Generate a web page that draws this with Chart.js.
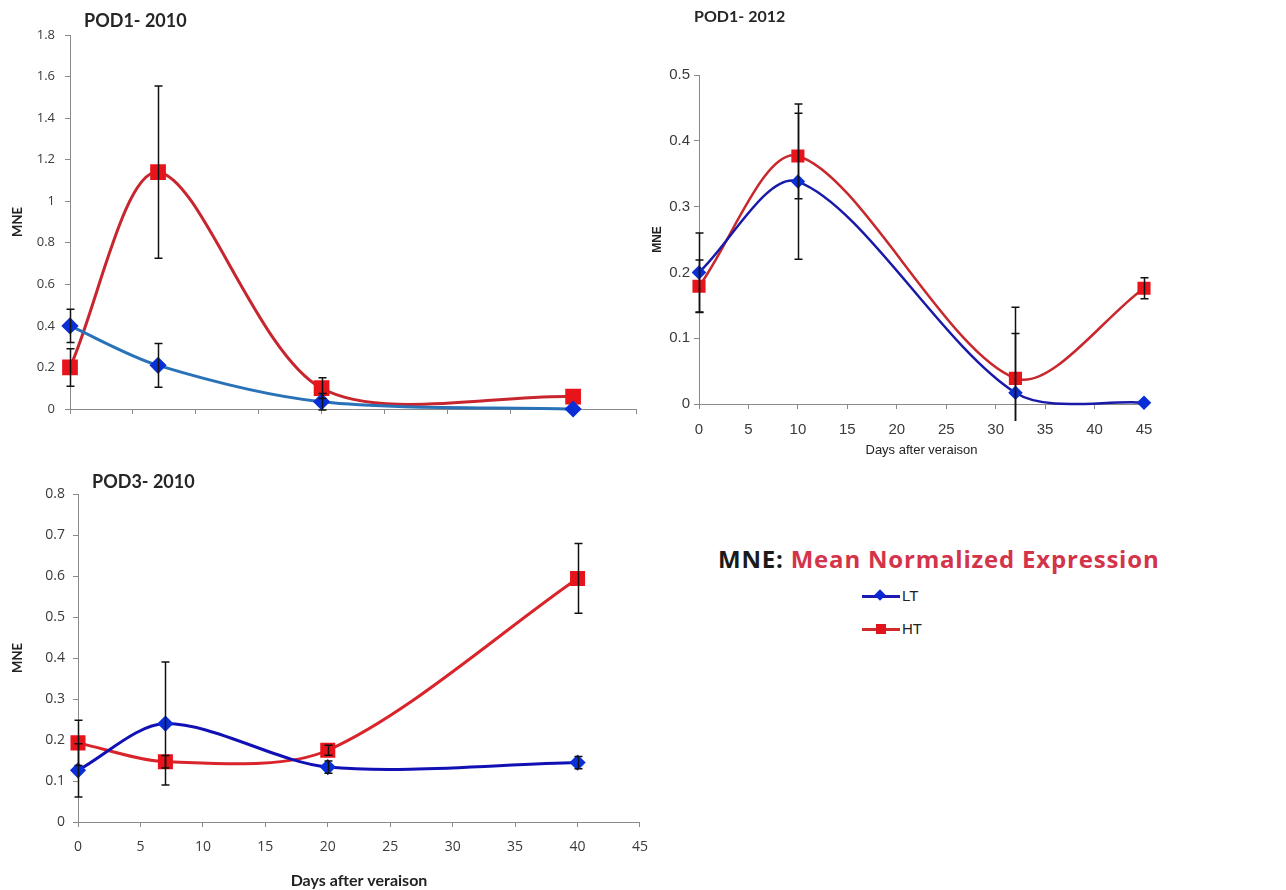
<!DOCTYPE html>
<html>
<head>
<meta charset="utf-8">
<title>POD1 / POD3 expression after veraison</title>
<script src="https://cdn.jsdelivr.net/npm/chart.js@4/dist/chart.umd.min.js"></script>
<style>
  html, body { margin: 0; padding: 0; background: #fff; }
  #page { position: relative; width: 1286px; height: 890px; overflow: hidden; background: #fff; }
  .panel { position: absolute; }
  .title { position: absolute; font-family: Lato, "Open Sans", sans-serif; font-weight: 700; color: #262626; white-space: nowrap; }
  #legend { position: absolute; left: 718px; top: 543px; font-family: "Open Sans", Lato, sans-serif; }
  #legend .head { font-size: 24px; line-height: 32px; font-weight: 700; letter-spacing: 0.8px; color: #1a1a1a; white-space: nowrap; }
  #legend .head span { color: #d4344a; }
  .entry { position: absolute; left: 144px; height: 20px; font-family: "Liberation Sans", Arial, sans-serif; font-size: 15px; color: #222; }
  .entry .ln { position: absolute; left: 0; top: 9px; width: 38px; height: 3px; }
  .entry .mk { position: absolute; }
  .entry .lb { position: absolute; left: 40px; top: 1px; }
</style>
</head>
<body>
<div id="page">
  <div class="panel" style="left:0;top:0"><canvas id="pod1_2010" width="660" height="440"></canvas></div>
  <div class="panel" style="left:640px;top:0"><canvas id="pod1_2012" width="646" height="470"></canvas></div>
  <div class="panel" style="left:0;top:440px"><canvas id="pod3_2010" width="660" height="450"></canvas></div>

  <div class="title" style="left:84px;top:9px;font-size:18px">POD1- 2010</div>
  <div class="title" style="left:694px;top:6px;font-size:16px">POD1- 2012</div>
  <div class="title" style="left:92px;top:470px;font-size:18px">POD3- 2010</div>

  <div id="legend">
    <div class="head">MNE: <span>Mean Normalized Expression</span></div>
    <div class="entry" style="top:43px">
      <div class="ln" style="background:#1c1cb4"></div>
      <div class="mk" style="left:14px;top:5px;width:8px;height:8px;background:#0b28d8;transform:rotate(45deg)"></div>
      <div class="lb">LT</div>
    </div>
    <div class="entry" style="top:76px">
      <div class="ln" style="background:#d02a2a"></div>
      <div class="mk" style="left:14px;top:5px;width:10px;height:10px;background:#e0141c"></div>
      <div class="lb">HT</div>
    </div>
  </div>
</div>

<script>
// Sampling days (days after veraison)
const DAYS_2010 = [0, 7, 20, 40];
const DAYS_2012 = [0, 10, 32, 45];

// POD1, season 2010: mean normalized expression and error
const POD1_2010_LT = [0.40, 0.21, 0.035, 0.0];
const POD1_2010_LT_ERR = [0.08, 0.105, 0.04, 0];
const POD1_2010_HT = [0.20, 1.14, 0.10, 0.06];
const POD1_2010_HT_ERR = [0.09, 0.415, 0.05, 0];

// POD1, season 2012
const POD1_2012_LT = [0.20, 0.338, 0.017, 0.002];
const POD1_2012_LT_ERR = [0.06, 0.118, 0.13, 0];
const POD1_2012_HT = [0.179, 0.377, 0.039, 0.176];
const POD1_2012_HT_ERR = [0.04, 0.065, 0.068, 0.016];

// POD3, season 2010
const POD3_2010_LT = [0.126, 0.24, 0.134, 0.145];
const POD3_2010_LT_ERR = [0.065, 0.15, 0.015, 0.015];
const POD3_2010_HT = [0.193, 0.147, 0.175, 0.594];
const POD3_2010_HT_ERR = [0.055, 0.015, 0.012, 0.085];

// Axis ranges and tick steps
const X_RANGE = { min: 0, max: 45, step: 5 };
const Y_POD1_2010 = { min: 0, max: 1.8, step: 0.2 };
const Y_POD1_2012 = { min: 0, max: 0.5, step: 0.1 };
const Y_POD3_2010 = { min: 0, max: 0.8, step: 0.1 };

const SERIES_LABELS = ['LT', 'HT'];
const Y_TITLE = 'MNE';
const X_TITLE = 'Days after veraison';

const toPoints = (days, vals) => days.map((d, i) => ({ x: d, y: vals[i] }));
const fmtTick = v => String(+v.toFixed(2));

// Vertical error bars with end caps, drawn on top of the series
const errorBars = {
  id: 'errorBars',
  afterDatasetsDraw(chart, args, o) {
    const { ctx, chartArea: a, scales: { x, y } } = chart;
    ctx.save();
    ctx.beginPath();
    ctx.rect(a.left - 20, a.top - 20, a.right - a.left + 40, a.bottom - a.top + 20 + o.below);
    ctx.clip();
    ctx.strokeStyle = o.color;
    ctx.lineWidth = o.width;
    chart.data.datasets.forEach((ds, i) => {
      if (!ds.errorBars || !chart.isDatasetVisible(i)) return;
      ds.data.forEach((p, j) => {
        const e = ds.errorBars[j];
        if (!e) return;
        const px = Math.round(x.getPixelForValue(p.x)) + 0.5;
        const hi = y.getPixelForValue(p.y + e);
        const lo = y.getPixelForValue(p.y - e);
        ctx.beginPath();
        ctx.moveTo(px, hi); ctx.lineTo(px, lo);
        ctx.moveTo(px - o.cap, hi); ctx.lineTo(px + o.cap, hi);
        ctx.moveTo(px - o.cap, lo); ctx.lineTo(px + o.cap, lo);
        ctx.stroke();
      });
    });
    ctx.restore();
  }
};

function makePanel(id, s) {
  const axisColor = '#8a8a8a';
  return new Chart(document.getElementById(id), {
    type: 'line',
    data: {
      datasets: [
        {
          label: SERIES_LABELS[0],
          data: toPoints(s.days, s.lt),
          errorBars: s.ltErr,
          borderColor: s.ltLine,
          backgroundColor: s.ltMark,
          pointBackgroundColor: s.ltMark,
          pointBorderColor: s.ltMark,
          pointStyle: 'rectRot',
          pointRadius: s.diamond,
          borderWidth: s.lineWidth,
          tension: s.tension,
          clip: false
        },
        {
          label: SERIES_LABELS[1],
          data: toPoints(s.days, s.ht),
          errorBars: s.htErr,
          borderColor: s.htLine,
          backgroundColor: s.htMark,
          pointBackgroundColor: s.htMark,
          pointBorderColor: s.htMark,
          pointStyle: 'rect',
          pointRadius: s.square,
          borderWidth: s.lineWidth,
          tension: s.tension,
          clip: false
        }
      ]
    },
    options: {
      responsive: false,
      animation: false,
      devicePixelRatio: 1,
      layout: { padding: s.padding },
      elements: { line: { capBezierPoints: false }, point: { borderWidth: 0, hoverRadius: s.square } },
      plugins: {
        legend: { display: false },
        tooltip: { enabled: false },
        errorBars: { color: '#111', width: 1.5, cap: 4, below: 17 }
      },
      scales: {
        x: {
          type: 'linear',
          min: X_RANGE.min, max: X_RANGE.max,
          afterFit: sc => { sc.height = s.xHeight; },
          border: { color: axisColor, width: 1 },
          grid: { drawOnChartArea: false, drawTicks: true, tickLength: 5, color: axisColor },
          ticks: {
            display: s.xLabels,
            stepSize: X_RANGE.step,
            padding: s.xTickPad,
            color: '#3a3a3a',
            font: s.tickFont,
            maxRotation: 0,
            callback: fmtTick
          },
          title: {
            display: s.xLabels,
            text: X_TITLE,
            color: '#222',
            font: s.xTitleFont,
            padding: { top: 0, bottom: s.xTitlePad }
          }
        },
        y: {
          type: 'linear',
          min: s.yRange.min, max: s.yRange.max,
          afterFit: sc => { sc.width = s.yWidth; },
          border: { color: axisColor, width: 1 },
          grid: { drawOnChartArea: false, drawTicks: true, tickLength: 5, color: axisColor },
          ticks: {
            stepSize: s.yRange.step,
            padding: s.yTickPad,
            color: '#3a3a3a',
            font: s.tickFont,
            callback: fmtTick
          },
          title: {
            display: true,
            text: Y_TITLE,
            color: '#222',
            font: s.yTitleFont,
            padding: { top: s.yTitlePad, bottom: 0 }
          }
        }
      }
    },
    plugins: [errorBars]
  });
}

const calibriLike = 'Lato, "Open Sans", sans-serif';
const roundSans = '"Open Sans", Lato, sans-serif';
const arialLike = '"Liberation Sans", Arial, sans-serif';

makePanel('pod1_2010', {
  days: DAYS_2010,
  lt: POD1_2010_LT, ltErr: POD1_2010_LT_ERR,
  ht: POD1_2010_HT, htErr: POD1_2010_HT_ERR,
  ltLine: '#2a72b8', ltMark: '#0b2fd6',
  htLine: '#c8262e', htMark: '#e8141c',
  diamond: 6.5, square: 9, lineWidth: 3, tension: 0.3,
  yRange: Y_POD1_2010,
  padding: { left: 0, top: 35, right: 24, bottom: 0 },
  yWidth: 70, xHeight: 31, xLabels: false, xTickPad: 4, xTitlePad: 0, yTickPad: 10,
  tickFont: { family: roundSans, size: 13 },
  xTitleFont: { family: calibriLike, size: 14, weight: 'bold' },
  yTitleFont: { family: calibriLike, size: 13, weight: 'bold' },
  yTitlePad: 10
});

makePanel('pod1_2012', {
  days: DAYS_2012,
  lt: POD1_2012_LT, ltErr: POD1_2012_LT_ERR,
  ht: POD1_2012_HT, htErr: POD1_2012_HT_ERR,
  ltLine: '#1a1aa8', ltMark: '#0b2fd6',
  htLine: '#c8282c', htMark: '#e8141c',
  diamond: 5.5, square: 7.5, lineWidth: 2.5, tension: 0.3,
  yRange: Y_POD1_2012,
  padding: { left: 0, top: 75, right: 142, bottom: 0 },
  yWidth: 59, xHeight: 66, xLabels: true, xTickPad: 12, xTitlePad: 12, yTickPad: 4,
  tickFont: { family: arialLike, size: 15 },
  xTitleFont: { family: arialLike, size: 13 },
  yTitleFont: { family: arialLike, size: 12, weight: 'bold' },
  yTitlePad: 10
});

makePanel('pod3_2010', {
  days: DAYS_2010,
  lt: POD3_2010_LT, ltErr: POD3_2010_LT_ERR,
  ht: POD3_2010_HT, htErr: POD3_2010_HT_ERR,
  ltLine: '#1010b4', ltMark: '#0b2fd6',
  htLine: '#d8242a', htMark: '#e8141c',
  diamond: 6, square: 8.5, lineWidth: 3, tension: 0.3,
  yRange: Y_POD3_2010,
  padding: { left: 0, top: 54, right: 20, bottom: 0 },
  yWidth: 78, xHeight: 68, xLabels: true, xTickPad: 12, xTitlePad: 0, yTickPad: 8,
  tickFont: { family: roundSans, size: 14 },
  xTitleFont: { family: calibriLike, size: 16, weight: 'bold' },
  yTitleFont: { family: calibriLike, size: 13, weight: 'bold' },
  yTitlePad: 10
});
</script>
</body>
</html>
